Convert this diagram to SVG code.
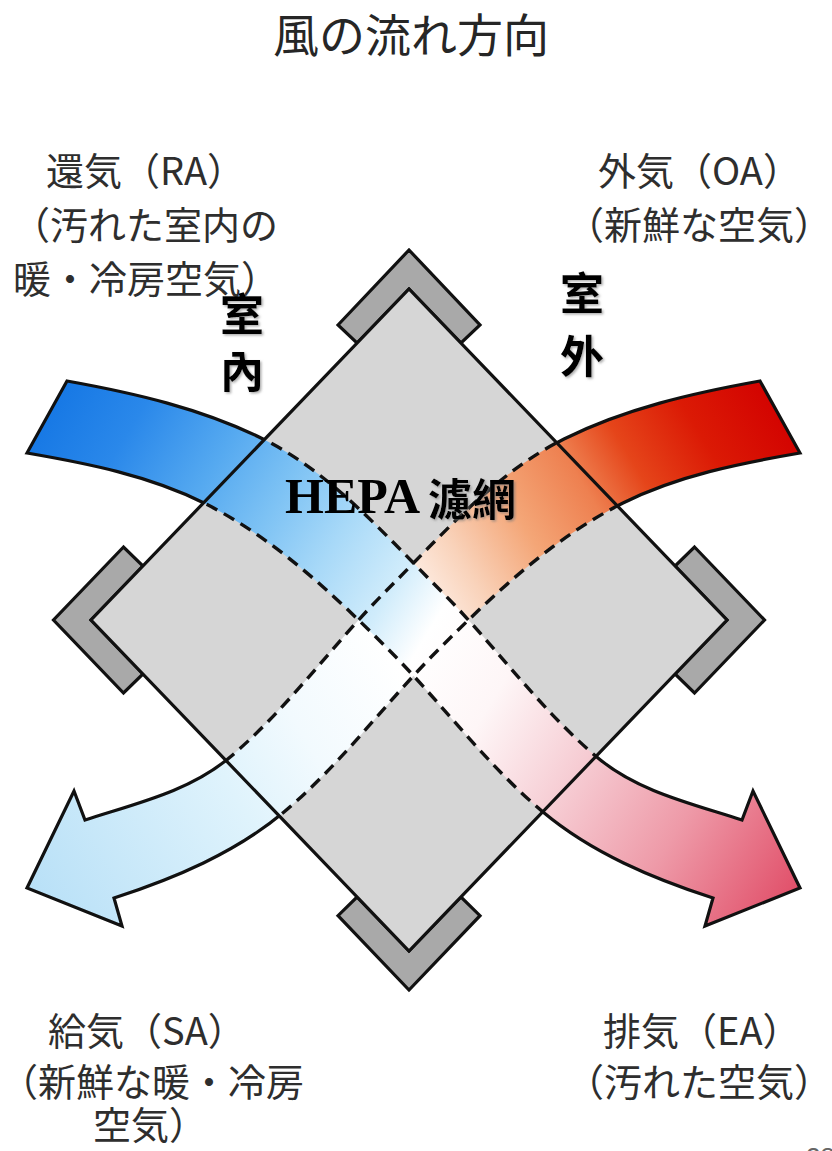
<svg xmlns="http://www.w3.org/2000/svg" xmlns:xlink="http://www.w3.org/1999/xlink" width="832" height="1151" viewBox="0 0 832 1151">
  <style>
    .jp { font-family: "Noto Sans CJK JP", "Noto Sans", sans-serif; fill: #2e2e2e; }
    .lbl { font-size: 38px; }
    .title { font-size: 46px; fill: #262626; }
    .mark { font-family: "Noto Sans CJK TC", "Noto Sans CJK JP", sans-serif; font-weight: 700; fill: #000; font-size: 44px; }
    .chev { fill: #a9a9a9; stroke: #111; stroke-width: 3.2; stroke-linejoin: miter; }
    .body { fill: #d6d6d6; }
    .outline { fill: none; stroke: #111; stroke-width: 3.2; stroke-linejoin: miter; }
    .edge-solid use { fill: none; stroke: #111; stroke-width: 3.2; stroke-linejoin: miter; }
    .edge-dash use { fill: none; stroke: #111; stroke-width: 3.4; stroke-dasharray: 12 7.5; }
  </style>
  <defs>
    <!-- one curved flow band with its arrowhead; the second band is its mirror image -->
    <path id="band" d="M67 381 C134 393 202.1 408.6 263 439 C332.4 473.7 385 535 440 590 C494.4 644.4 539 708.6 598 758 C638 791.6 692.3 803.8 742 820 L753 791 L800 888 L705 926 L713 898 C652.6 878.4 591.6 852.8 543 812 C485.4 763.7 440.7 701.7 387.5 648.5 C332.3 593.3 273.7 537.9 204 503 C149.2 475.6 87.4 463.4 27 453 Z"/>
    <!-- return air (blue) to exhaust air (pink) -->
    <linearGradient id="gA" gradientUnits="userSpaceOnUse" x1="30" y1="420" x2="800" y2="888">
      <stop offset="0" stop-color="#1476e4"/>
      <stop offset="0.1" stop-color="#2a88ea"/>
      <stop offset="0.2" stop-color="#55a9f0"/>
      <stop offset="0.28" stop-color="#7dc2f4"/>
      <stop offset="0.36" stop-color="#a8d9f8"/>
      <stop offset="0.44" stop-color="#d0ecfb"/>
      <stop offset="0.5" stop-color="#ffffff"/>
      <stop offset="0.6" stop-color="#fef6f7"/>
      <stop offset="0.72" stop-color="#f6ccd3"/>
      <stop offset="0.85" stop-color="#ee9aa8"/>
      <stop offset="1" stop-color="#e14f69"/>
    </linearGradient>
    <!-- outdoor air (red) to supply air (light blue), in mirrored coordinates -->
    <linearGradient id="gB" gradientUnits="userSpaceOnUse" x1="30" y1="420" x2="800" y2="888">
      <stop offset="0" stop-color="#d20000"/>
      <stop offset="0.1" stop-color="#db1a05"/>
      <stop offset="0.18" stop-color="#e5451a"/>
      <stop offset="0.24" stop-color="#ee8050"/>
      <stop offset="0.32" stop-color="#f4a677"/>
      <stop offset="0.4" stop-color="#f9d3bb"/>
      <stop offset="0.47" stop-color="#fff4ee"/>
      <stop offset="0.52" stop-color="#ffffff"/>
      <stop offset="0.65" stop-color="#f2fafe"/>
      <stop offset="0.75" stop-color="#dff3fc"/>
      <stop offset="1" stop-color="#b8e0f7"/>
    </linearGradient>
    <clipPath id="inside">
      <polygon points="409,289 727,620 409,951 91,620"/>
    </clipPath>
    <clipPath id="outside">
      <path clip-rule="evenodd" d="M0 0H832V1151H0Z M409 289L727 620L409 951L91 620Z"/>
    </clipPath>
    <filter id="soft" x="-20%" y="-20%" width="140%" height="140%">
      <feDropShadow dx="1.5" dy="1.5" stdDeviation="1" flood-color="#777" flood-opacity="0.6"/>
    </filter>
  </defs>

  <rect width="832" height="1151" fill="#ffffff"/>

  <g id="title">
    <text class="jp title" x="411" y="52" text-anchor="middle">風の流れ方向</text>
  </g>

  <!-- heat exchanger core: four corner brackets and the square element -->
  <g id="core">
    <polygon id="bracket-top" class="chev" points="338,325 409,250 480,325 461,343 409,289 357,343"/>
    <polygon id="bracket-left" class="chev" points="123.5,547 53.5,620 123.5,693 143,674 91,620 143,566"/>
    <polygon id="bracket-right" class="chev" points="694.5,547 764.5,620 694.5,693 675,674 727,620 675,566"/>
    <polygon id="bracket-bottom" class="chev" points="338,915.7 409,990 480,915.7 461,897 409,951 357,897"/>
    <polygon class="body" points="409,289 727,620 409,951 91,620"/>
  </g>

  <g id="connectors">
    <use id="flow-oa-sa" xlink:href="#band" href="#band" transform="matrix(-1 0 0 1 827 0)" fill="url(#gB)"/>
    <use id="flow-ra-ea" xlink:href="#band" href="#band" fill="url(#gA)"/>
    <g class="edge-solid" clip-path="url(#outside)">
      <use xlink:href="#band" href="#band" transform="matrix(-1 0 0 1 827 0)"/>
      <use xlink:href="#band" href="#band"/>
    </g>
    <g class="edge-dash" clip-path="url(#inside)">
      <use xlink:href="#band" href="#band" transform="matrix(-1 0 0 1 827 0)"/>
      <use xlink:href="#band" href="#band"/>
    </g>
  </g>

  <polygon id="core-outline" class="outline" points="409,289 727,620 409,951 91,620"/>

  <g id="label-ra" class="jp lbl">
    <text x="46" y="185">還気（RA）</text>
    <text x="12" y="239">（汚れた室内の</text>
    <text x="13" y="293">暖・冷房空気）</text>
  </g>
  <g id="label-oa" class="jp lbl">
    <text x="598" y="185">外気（OA）</text>
    <text x="566" y="239">（新鮮な空気）</text>
  </g>
  <g id="label-sa" class="jp lbl">
    <text x="48" y="1045">給気（SA）</text>
    <text x="0" y="1096">（新鮮な暖・冷房</text>
    <text x="93" y="1139">空気）</text>
  </g>
  <g id="label-ea" class="jp lbl">
    <text x="603" y="1045">排気（EA）</text>
    <text x="566" y="1096">（汚れた空気）</text>
  </g>

  <g id="label-indoor" filter="url(#soft)">
    <text class="mark" x="242" y="331" text-anchor="middle">室</text>
    <text class="mark" x="242" y="388" text-anchor="middle">內</text>
  </g>
  <g id="label-outdoor" filter="url(#soft)">
    <text class="mark" x="582" y="310" text-anchor="middle">室</text>
    <text class="mark" x="582" y="373" text-anchor="middle">外</text>
  </g>
  <g id="label-filter">
    <text x="285" y="513" font-family="Liberation Serif, serif" font-weight="700" font-size="50" fill="#000">HEPA</text>
    <text x="428" y="516" class="mark" font-size="48" filter="url(#soft)">濾網</text>
  </g>

  <g id="page-number">
    <text x="806" y="1166" font-family="Liberation Sans, sans-serif" font-size="26" fill="#666">28</text>
  </g>
</svg>
